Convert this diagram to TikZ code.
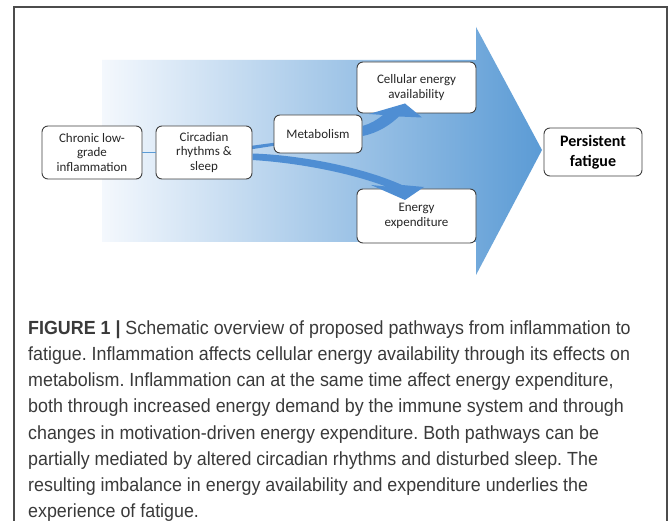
\documentclass[tikz,border=0pt]{standalone}
\usepackage{fontspec}
\setmainfont{Carlito}
\newfontfamily\capfont[FakeStretch=0.94]{Liberation Sans}
\usetikzlibrary{calc}
\definecolor{arrowblue}{HTML}{5B9BD5}
\definecolor{lightblue}{HTML}{F4F8FD}
\definecolor{darkarrow}{HTML}{4F8ED3}
\definecolor{boxline}{HTML}{3F3F3F}
\definecolor{captext}{HTML}{3A3A3A}
\frenchspacing
\begin{document}
\begin{tikzpicture}[x=1pt,y=-1pt,
  box/.style={draw=boxline, line width=0.9pt, fill=white, rounded corners=6pt,
    align=center, inner sep=0pt, font=\fontsize{13}{14.5}\selectfont, text=black!85},
  blockarrow/.style={fill=darkarrow, draw=none},
  capline/.style={anchor=base west, inner sep=0pt,
    font=\capfont\fontsize{19}{20}\selectfont, text=captext}]
\useasboundingbox (0,0) rectangle (669,521);
\fill[white] (0,0) rectangle (669,521);
\draw[line width=1.3pt, draw=black!70] (14,521) -- (14,7) -- (667,7) -- (667,521);
% big gradient arrow
\shade[left color=lightblue, right color=arrowblue]
  (102,60) -- (476,60) -- (476,27) -- (542,150) -- (476,275) -- (476,242) -- (102,242) -- cycle;
% tapered connector circadian -> metabolism
\fill[blockarrow] (250,146) -- (276,142.5) -- (276,145.5) -- (250,149.5) -- cycle;
% boxes
\node[box, minimum width=100pt, minimum height=53pt] (chronic) at (92,152.5) {Chronic low-\\grade\\inflammation};
\node[box, minimum width=96pt, minimum height=53pt] (circ) at (204,152.5) {Circadian\\rhythms \&\\sleep};
\node[box, minimum width=88pt, minimum height=38pt] (metab) at (318,134) {Metabolism};
\node[box, minimum width=119pt, minimum height=51pt] (cell) at (416.5,87.5) {Cellular energy\\availability};
\node[box, minimum width=119pt, minimum height=54pt] (energy) at (416.5,216) {Energy\\expenditure};
\node[box, minimum width=98pt, minimum height=48pt, font=\bfseries\fontsize{16}{20}\selectfont, text=black] (fatigue) at (593,152) {Persistent\\fatigue};
% thin connector
\draw[arrowblue, line width=1pt] (chronic.east) -- (circ.west);
% block arrow metabolism -> cellular energy
\fill[blockarrow] (362.5,126) .. controls (370,124) and (377,120) .. (383,115)
  -- (369,114) -- (405,103.5) -- (422,117.5) -- (399,116.5)
  .. controls (390,125) and (378,133) .. (362.5,136) -- cycle;
% block arrow circadian -> energy expenditure
\fill[blockarrow] (252.5,153.5) .. controls (300,155) and (362,167) .. (402,185)
  -- (424,187) -- (405,200) -- (371,185) -- (386,186.5)
  .. controls (350,173) and (300,163) .. (252.5,160) -- cycle;
% caption
\node[capline] (c1) at (28,334) {\textbf{FIGURE 1 |} Schematic overview of proposed pathways from inflammation to};
\node[capline] (c2) at (28,360.3) {fatigue. Inflammation affects cellular energy availability through its effects on};
\node[capline] (c3) at (28,386.6) {metabolism. Inflammation can at the same time affect energy expenditure,};
\node[capline] (c4) at (28,412.9) {both through increased energy demand by the immune system and through};
\node[capline] (c5) at (28,439.2) {changes in motivation-driven energy expenditure. Both pathways can be};
\node[capline] (c6) at (28,465.5) {partially mediated by altered circadian rhythms and disturbed sleep. The};
\node[capline] (c7) at (28,491.8) {resulting imbalance in energy availability and expenditure underlies the};
\node[capline] (c8) at (28,517.5) {experience of fatigue.};
\end{tikzpicture}
\end{document}
